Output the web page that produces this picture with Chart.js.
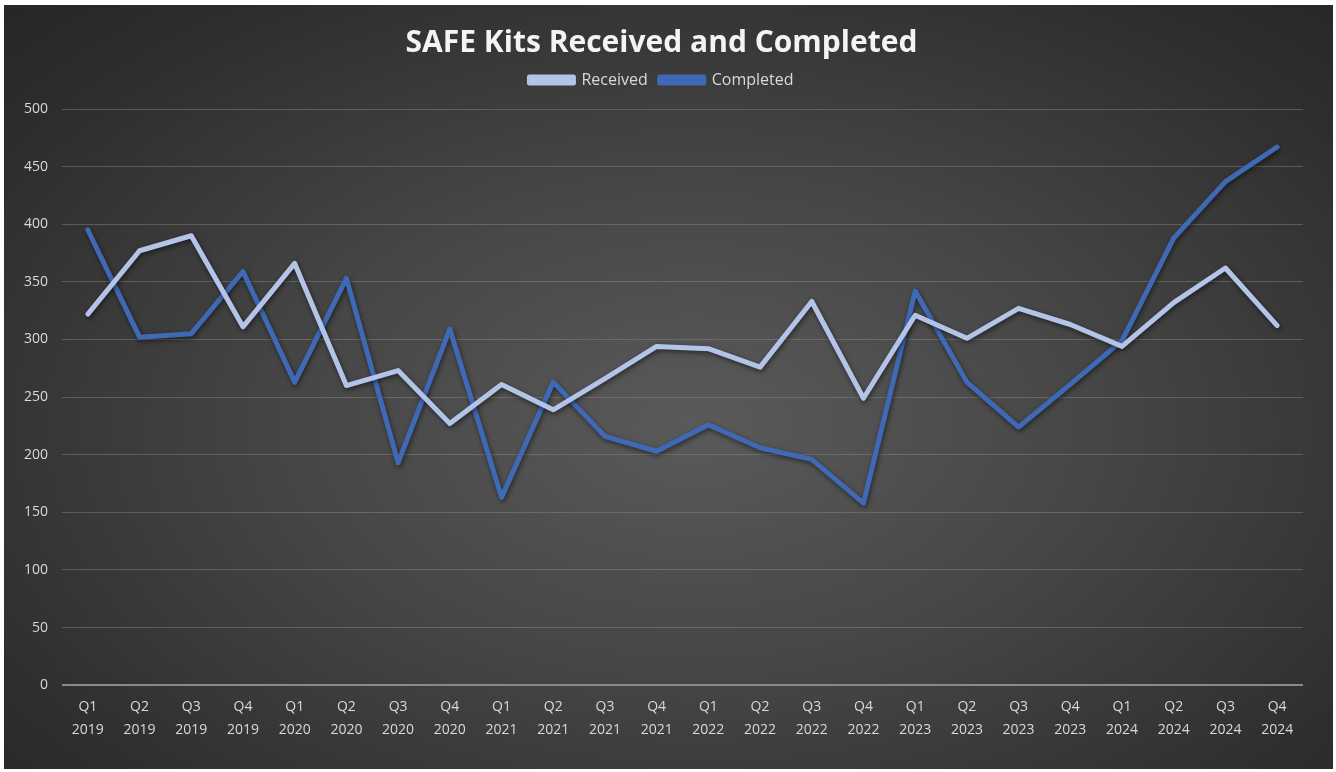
<!DOCTYPE html>
<html>
<head>
<meta charset="utf-8">
<script src="https://cdn.jsdelivr.net/npm/chart.js@4"></script>
<style>
  html, body { margin: 0; padding: 0; background: #ffffff; }
  #panel {
    position: absolute; left: 4px; top: 5px; width: 1329px; height: 764px;
    background: radial-gradient(ellipse 75% 80% at 52% 55%, #5a5a5a 0%, #464646 40%, #2e2e2e 80%, #252525 100%);
  }
  #chart { display: block; }
</style>
</head>
<body>
<div id="panel"><canvas id="chart" width="1329" height="764"></canvas></div>
<script>
// quarters on the x axis
const quarters = ['Q1', 'Q2', 'Q3', 'Q4'];
const years = ['2019', '2020', '2021', '2022', '2023', '2024'];

// values
const received = [322, 377, 390, 311, 366, 260, 273, 227,
                  261, 239, 266, 294, 292, 276, 333, 249,
                  321, 301, 327, 313, 294, 332, 362, 312];
const completed = [395, 302, 305, 359, 263, 353, 193, 309,
                   163, 263, 216, 203, 226, 206, 196, 158,
                   342, 263, 224, 261, 299, 388, 437, 467];

const yTicks = [0, 50, 100, 150, 200, 250, 300, 350, 400, 450, 500];

const labels = [];
years.forEach(y => quarters.forEach(q => labels.push([q, y])));

// soft shadow under the lines, like the office chart
const lineShadow = {
    id: 'lineShadow',
    beforeDatasetDraw(chart) {
        const ctx = chart.ctx;
        ctx.save();
        ctx.shadowColor = 'rgba(0,0,0,0.55)';
        ctx.shadowBlur = 5;
        ctx.shadowOffsetX = 1;
        ctx.shadowOffsetY = 2;
    },
    afterDatasetDraw(chart) {
        chart.ctx.restore();
    }
};

// a bit more room between the legend and the plot
const legendGap = {
    id: 'legendGap',
    afterInit(chart) {
        const legend = chart.legend;
        if (!legend) return;
        const fit = legend.fit;
        legend.fit = function () {
            fit.call(this);
            this.height += 11;
        };
    }
};

const ctx = document.getElementById('chart').getContext('2d');
new Chart(ctx, {
    type: 'line',
    data: {
        labels: labels,
        datasets: [{
            label: 'Received',
            data: received,
            borderColor: '#b4c3e8',
            backgroundColor: '#b4c3e8',
            borderWidth: 5,
            pointRadius: 0,
            tension: 0,
            borderJoinStyle: 'round',
            borderCapStyle: 'round'
        }, {
            label: 'Completed',
            data: completed,
            borderColor: '#3f69b5',
            backgroundColor: '#3f69b5',
            borderWidth: 5,
            pointRadius: 0,
            tension: 0,
            borderJoinStyle: 'round',
            borderCapStyle: 'round'
        }]
    },
    options: {
        responsive: false,
        animation: false,
        layout: { padding: { left: 16, right: 30, top: 11, bottom: 17 } },
        plugins: {
            title: {
                display: true,
                text: 'SAFE Kits Received and Completed',
                color: '#f4f4f4',
                font: { family: 'Open Sans', size: 30, weight: 'bold', lineHeight: 1 },
                padding: { top: 12, bottom: 2 }
            },
            legend: {
                labels: {
                    color: '#d9d9d9',
                    font: { family: 'Open Sans', size: 16 },
                    boxWidth: 44,
                    boxHeight: 6,
                    padding: 12
                }
            },
            tooltip: { enabled: false }
        },
        scales: {
            x: {
                offset: true,
                grid: { display: false, drawTicks: false },
                border: { display: false },
                ticks: {
                    color: '#d9d9d9',
                    font: { family: 'Open Sans', size: 14, lineHeight: 1.6 },
                    padding: 11,
                    maxRotation: 0,
                    autoSkip: false
                }
            },
            y: {
                min: 0,
                max: 500,
                afterFit(scale) { scale.width = 42; },
                afterBuildTicks(scale) { scale.ticks = yTicks.map(v => ({ value: v })); },
                grid: {
                    drawTicks: false,
                    color: ctx => ctx.tick && ctx.tick.value === 0 ? '#8a8a8a' : 'rgba(140,140,140,0.45)',
                    lineWidth: ctx => ctx.tick && ctx.tick.value === 0 ? 2 : 1
                },
                border: { display: false },
                ticks: {
                    color: '#d9d9d9',
                    font: { family: 'Open Sans', size: 14 },
                    padding: 14
                }
            }
        }
    },
    plugins: [lineShadow, legendGap]
});
</script>
</body>
</html>
